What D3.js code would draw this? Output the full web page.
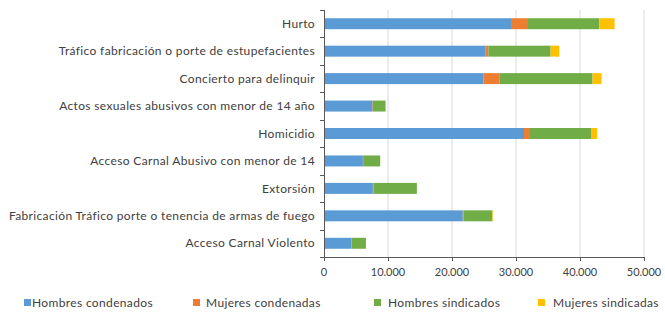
<!DOCTYPE html>
<html><head><meta charset="utf-8">
<script src="https://cdn.jsdelivr.net/npm/d3@7"></script>
<style>
body{margin:0;background:#fff;}
svg text{font-family:Lato,"Open Sans",sans-serif;fill:#404040;}
</style></head>
<body><svg id="c" width="665" height="313"></svg>
<script>
const categories = ["Hurto","Tráfico fabricación o porte de estupefacientes","Concierto para delinquir","Actos sexuales abusivos con menor de 14 año","Homicidio","Acceso Carnal Abusivo con menor de 14","Extorsión","Fabricación Tráfico porte o tenencia de armas de fuego","Acceso Carnal Violento"];
const seriesNames = ["Hombres condenados","Mujeres condenadas","Hombres sindicados","Mujeres sindicadas"];
const hombresCondenados = [29220,25270,24900,7590,31250,6080,7640,21690,4260];
const mujeresCondenadas = [2650,410,2500,60,930,40,80,100,30];
const hombresSindicados = [11130,9730,14560,1970,9630,2660,6790,4510,2260];
const mujeresSindicadas = [2400,1350,1410,0,880,0,0,100,0];
const tickValues = [0,10000,20000,30000,40000,50000];
const tickLabels = ["0","10.000","20.000","30.000","40.000","50.000"];
const colors = ["#5B9BD5","#ED7D31","#70AD47","#FFC000"];

const svg = d3.select("#c");
const pL=324, pR=644, pT=10, pB=257;
const x = d3.scaleLinear().domain([0,50000]).range([pL,pR]);
const y = d3.scaleBand().domain(categories).range([pT,pB]).paddingInner(0.6).paddingOuter(0.3);
const yb = d3.scaleBand().domain(categories).range([pT,pB]);

svg.append("g").selectAll("line").data(tickValues.slice(1)).join("line")
  .attr("x1",d=>x(d)).attr("x2",d=>x(d)).attr("y1",pT).attr("y2",pB)
  .attr("stroke","#d9d9d9").attr("stroke-width",1);

const stackData = categories.map((c,i)=>({cat:c,s0:hombresCondenados[i],s1:mujeresCondenadas[i],s2:hombresSindicados[i],s3:mujeresSindicadas[i]}));
const stack = d3.stack().keys(["s0","s1","s2","s3"])(stackData);
svg.append("g").selectAll("g").data(stack).join("g").attr("fill",(d,i)=>colors[i])
  .selectAll("rect").data(d=>d).join("rect")
  .attr("x",d=>x(d[0])).attr("width",d=>Math.max(0,x(d[1])-x(d[0])))
  .attr("y",d=>y(d.data.cat)).attr("height",y.bandwidth());

const ga = svg.append("g");
ga.append("line").attr("x1",pL+0.5).attr("x2",pL+0.5).attr("y1",pT).attr("y2",pB).attr("stroke","#595959");
const bounds = categories.map(c=>yb(c)).concat([pB]);
ga.selectAll("line.t").data(bounds).join("line").attr("class","t")
  .attr("x1",pL-4).attr("x2",pL).attr("y1",d=>Math.round(d)+0.5).attr("y2",d=>Math.round(d)+0.5).attr("stroke","#595959");
ga.selectAll("text").data(categories).join("text")
  .attr("x",pL-9).attr("y",d=>yb(d)+yb.bandwidth()/2).attr("dy","0.35em")
  .attr("text-anchor","end").attr("font-size",12).attr("letter-spacing",0.35).text(d=>d);

const gx = svg.append("g");
gx.append("line").attr("x1",pL).attr("x2",pR).attr("y1",pB+0.5).attr("y2",pB+0.5).attr("stroke","#595959");
gx.selectAll("line.t").data(tickValues).join("line").attr("class","t")
  .attr("x1",d=>Math.round(x(d))+0.5).attr("x2",d=>Math.round(x(d))+0.5).attr("y1",pB).attr("y2",pB+4).attr("stroke","#595959");
gx.selectAll("text").data(tickValues).join("text")
  .attr("x",d=>x(d)).attr("y",272).attr("dy","0.35em").attr("text-anchor","middle").attr("font-size",11)
  .text((d,i)=>tickLabels[i]);

const legX = [24,193,374,538];
const legTX = [32,206,388,553];
const lg = svg.append("g");
seriesNames.forEach((n,i)=>{
  lg.append("rect").attr("x",legX[i]).attr("y",299).attr("width",7).attr("height",7).attr("fill",colors[i]);
  lg.append("text").attr("x",legTX[i]).attr("y",303).attr("dy","0.35em").attr("font-size",12).attr("letter-spacing",0.35).text(n);
});
</script></body></html>
